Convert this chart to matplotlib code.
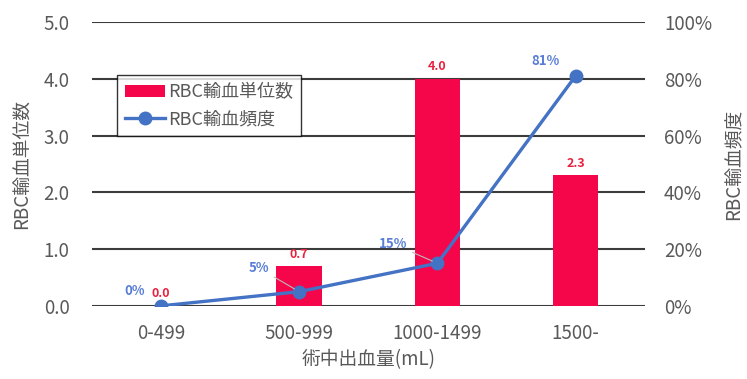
import matplotlib.pyplot as plt
import numpy as np

plt.rcParams['font.family'] = ['Noto Sans CJK JP', 'DejaVu Sans']

categories = ["0-499", "500-999", "1000-1499", "1500-"]
units = [0.0, 0.7, 4.0, 2.3]
freq = [0, 5, 15, 81]
freq_offsets = [(-19, 11), (-29, 17), (-32, 14), (-22, 11)]
freq_leader = [False, True, True, False]

bar_color = "#F5064B"
line_color = "#4472C4"
text_gray = "#595959"

x = np.arange(len(categories))

fig = plt.figure(figsize=(7.47, 3.79), dpi=100)
ax1 = fig.add_axes([0.123, 0.193, 0.740, 0.749])

bars = ax1.bar(x, units, width=0.33, color=bar_color, label="RBC輸血単位数", zorder=2)
ax1.set_ylim(0, 5)
ax1.set_xlim(-0.5, 3.5)
ax1.set_yticks(np.arange(0, 5.1, 1.0))
ax1.set_yticklabels([f"{v:.1f}" for v in np.arange(0, 5.1, 1.0)])
ax1.set_xticks(x)
ax1.set_xticklabels(categories)
ax1.grid(axis="y", color="#3c3c3c", linewidth=1.5, zorder=0)
ax1.set_axisbelow(True)
ax1.tick_params(axis="y", length=0, labelsize=13.5, labelcolor=text_gray, pad=16)
ax1.tick_params(axis="x", length=0, labelsize=13.5, labelcolor=text_gray, pad=12)
ax1.set_ylabel("RBC輸血単位数", fontsize=13.5, color=text_gray, labelpad=8)
ax1.set_xlabel("術中出血量(mL)", fontsize=13.5, color=text_gray, labelpad=4)
for s in ax1.spines.values():
    s.set_visible(False)

for xi, v in zip(x, units):
    ax1.annotate(f"{v:.1f}", (xi, v), xytext=(0, 4), textcoords="offset points",
                 ha="center", va="bottom", color="#E8213E", fontsize=9,
                 fontweight="bold")

ax2 = ax1.twinx()
line, = ax2.plot(x, freq, color=line_color, linewidth=2.4, marker="o",
                 markersize=9, label="RBC輸血頻度", zorder=3)
ax2.set_ylim(0, 100)
ax2.set_yticks(np.arange(0, 101, 20))
ax2.set_yticklabels([f"{v}%" for v in range(0, 101, 20)])
ax2.tick_params(length=0, labelsize=13.5, labelcolor=text_gray, pad=14)
ax2.set_ylabel("RBC輸血頻度", fontsize=13.5, color=text_gray, labelpad=8)
for s in ax2.spines.values():
    s.set_visible(False)

for xi, v, off, lead in zip(x, freq, freq_offsets, freq_leader):
    props = dict(arrowstyle="-", color="#BBBBBB", lw=0.8, shrinkA=2, shrinkB=4) if lead else None
    ax2.annotate(f"{v}%", (xi, v), xytext=off, textcoords="offset points",
                 ha="center", va="center", color="#5A7ED8", fontsize=9.5,
                 fontweight="bold", arrowprops=props)

leg = fig.legend([bars, line], ["RBC輸血単位数", "RBC輸血頻度"],
                 loc="upper left", bbox_to_anchor=(0.157, 0.802),
                 fontsize=13, frameon=True, fancybox=False, edgecolor="black",
                 handlelength=2.2, handleheight=0.6, handletextpad=0.15,
                 borderpad=0.45, borderaxespad=0, labelspacing=0.5,
                 labelcolor=text_gray)
leg.get_frame().set_linewidth(1.0)

fig.savefig("out.png", dpi=100)
